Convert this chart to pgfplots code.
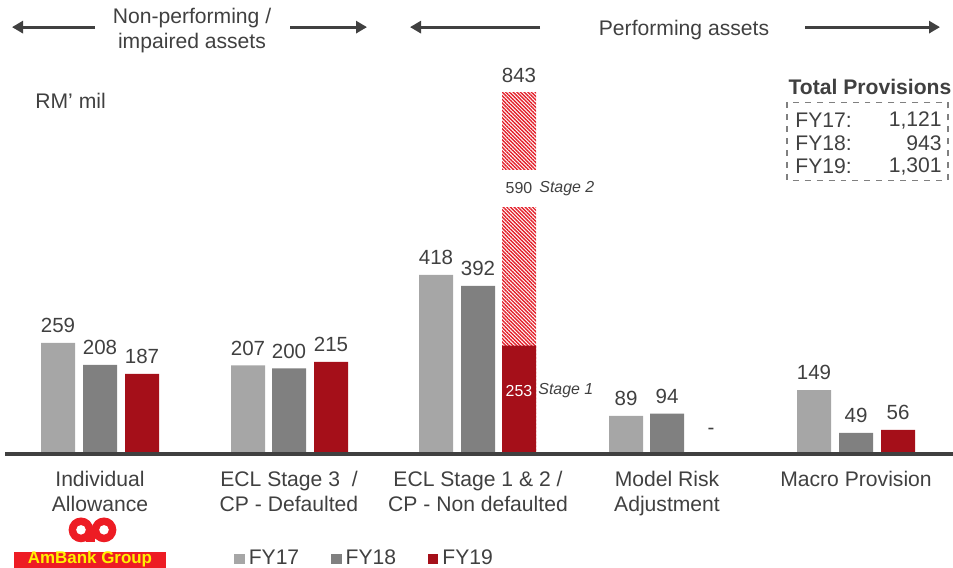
\documentclass[border=0pt]{standalone}
\usepackage{fontspec}
\setmainfont{Liberation Sans}
\usepackage{pgfplots}
\pgfplotsset{compat=1.18}
\usetikzlibrary{patterns.meta, arrows.meta}
\definecolor{cA}{HTML}{A6A6A6}
\definecolor{cB}{HTML}{808080}
\definecolor{cC}{HTML}{A50F19}
\definecolor{hatch}{HTML}{E3202A}
\definecolor{txt}{HTML}{404040}
\definecolor{logored}{HTML}{ED1C24}
\newcommand\fnt{\fontsize{10.6}{12.5}\selectfont}
\newcommand\nfnt{\fontsize{10.3}{12}\selectfont}
\newcommand\sfnt{\fontsize{8}{9.6}\selectfont}
\begin{document}
\begin{tikzpicture}
\begin{axis}[
 scale only axis, width=474bp, height=227bp,
 xmin=5, xmax=953, ymin=0, ymax=1059.3,
 axis line style={draw=none},
 ytick=\empty,
 xtick={100,289,478,667,856},
 xticklabels={Individual\\Allowance, ECL Stage 3~~/\\CP - Defaulted, ECL Stage 1 \& 2 /\\CP - Non defaulted, Model Risk\\Adjustment, Macro Provision},
 xticklabel style={align=center, font=\fnt, text=txt, yshift=-5bp},
 major tick length=0pt,
 clip=false,
 /pgf/number format/assume math mode=true,
 every node near coord/.append style={font=\nfnt, text=txt, yshift=1.5bp},
 legend columns=3,
 legend style={at={(axis cs:228,-245)}, anchor=west, draw=none, fill=none, font=\fnt, text=txt,
   /tikz/every even column/.append style={column sep=14bp}},
 legend image code/.code={\fill[#1] (0bp,-2.6bp) rectangle (5.2bp,2.6bp);},
]
\addplot[ybar, bar width=34, bar shift=0pt, draw=none, fill=cA, nodes near coords]
 coordinates {(58,259) (248,207) (436,418) (626,89) (814,149)};
\addlegendentry{FY17}
\addplot[ybar, bar width=34, bar shift=0pt, draw=none, fill=cB, nodes near coords]
 coordinates {(100,208) (289,200) (478,392) (667,94) (856,49)};
\addlegendentry{FY18}
\addplot[ybar, bar width=34, bar shift=0pt, draw=none, forget plot,
  pattern={Lines[angle=-45,distance=1.3bp,line width=0.7bp]}, pattern color=hatch, nodes near coords]
 coordinates {(519,843)};
\addplot[ybar, bar width=34, bar shift=0pt, draw=none, fill=cC, nodes near coords,
  point meta=explicit symbolic]
 coordinates {(142,187)[187] (331,215)[215] (519,253)[] (898,56)[56]};
\addlegendentry{FY19}

% baseline
\draw[txt, line width=2bp] (axis cs:5,0) -- (axis cs:953,0);
% stage labels
\node[fill=white, minimum width=18bp, minimum height=18.5bp, inner sep=0pt, font=\sfnt, text=txt] at (axis cs:519,620) {590};
\node[anchor=west, font=\sfnt\itshape, text=txt, inner sep=0pt] at (axis cs:539,620) {Stage 2};
\node[font=\sfnt, text=white, inner sep=0pt] at (axis cs:519,147) {253};
\node[anchor=west, font=\sfnt\itshape, text=txt, inner sep=0pt] at (axis cs:538,149) {Stage 1};
\node[font=\nfnt, text=txt] at (axis cs:711,52) {-};
% unit
\node[anchor=west, font=\fnt, text=txt, inner sep=0pt] at (axis cs:35,823.7) {RM’ mil};
% top arrows
\node[align=center, font=\fnt, text=txt] at (axis cs:192,988) {Non-performing /\\impaired assets};
\node[font=\fnt, text=txt] at (axis cs:684,989) {Performing assets};
\draw[txt, line width=1.5bp, -{Triangle[length=5.5bp,width=6bp]}] (axis cs:95,996) -- (axis cs:12,996);
\draw[txt, line width=1.5bp, -{Triangle[length=5.5bp,width=6bp]}] (axis cs:290,996) -- (axis cs:367,996);
\draw[txt, line width=1.5bp, -{Triangle[length=5.5bp,width=6bp]}] (axis cs:540,996) -- (axis cs:410,996);
\draw[txt, line width=1.5bp, -{Triangle[length=5.5bp,width=6bp]}] (axis cs:805,996) -- (axis cs:940,996);
% total provisions
\node[font=\fnt\bfseries, text=txt] at (axis cs:870,856) {Total Provisions};
\draw[gray, dashed, line width=0.6bp] (axis cs:787,821) rectangle (axis cs:948,639);
\node[anchor=west, font=\fnt, text=txt, inner sep=0pt] at (axis cs:795,779) {FY17:};
\node[anchor=west, font=\fnt, text=txt, inner sep=0pt] at (axis cs:795,725.7) {FY18:};
\node[anchor=west, font=\fnt, text=txt, inner sep=0pt] at (axis cs:795,672) {FY19:};
\node[anchor=east, font=\fnt, text=txt, inner sep=0pt] at (axis cs:942,779) {1,121};
\node[anchor=east, font=\fnt, text=txt, inner sep=0pt] at (axis cs:942,725.7) {943};
\node[anchor=east, font=\fnt, text=txt, inner sep=0pt] at (axis cs:942,672) {1,301};
% logo
\fill[logored] (axis cs:81,-177) circle[radius=6.2bp];
\fill[logored] (axis cs:104,-177) circle[radius=6.2bp];
\fill[white] (axis cs:81,-177) circle[radius=2.4bp];
\fill[white] (axis cs:104,-177) circle[radius=2.4bp];
\fill[logored] (axis cs:86,-206) rectangle (axis cs:95,-177);
\fill[logored] (axis cs:14,-228) rectangle (axis cs:166,-266);
\node[font=\fontsize{8.5}{10}\selectfont\bfseries, text=yellow, anchor=base, inner sep=0pt] at (axis cs:90,-256) {AmBank Group};
\coordinate (bbSW) at (axis cs:0,-266);
\coordinate (bbNE) at (axis cs:953,1059.3);
\end{axis}
\pgfresetboundingbox
\useasboundingbox (bbSW) rectangle (bbNE);
\end{tikzpicture}
\end{document}
